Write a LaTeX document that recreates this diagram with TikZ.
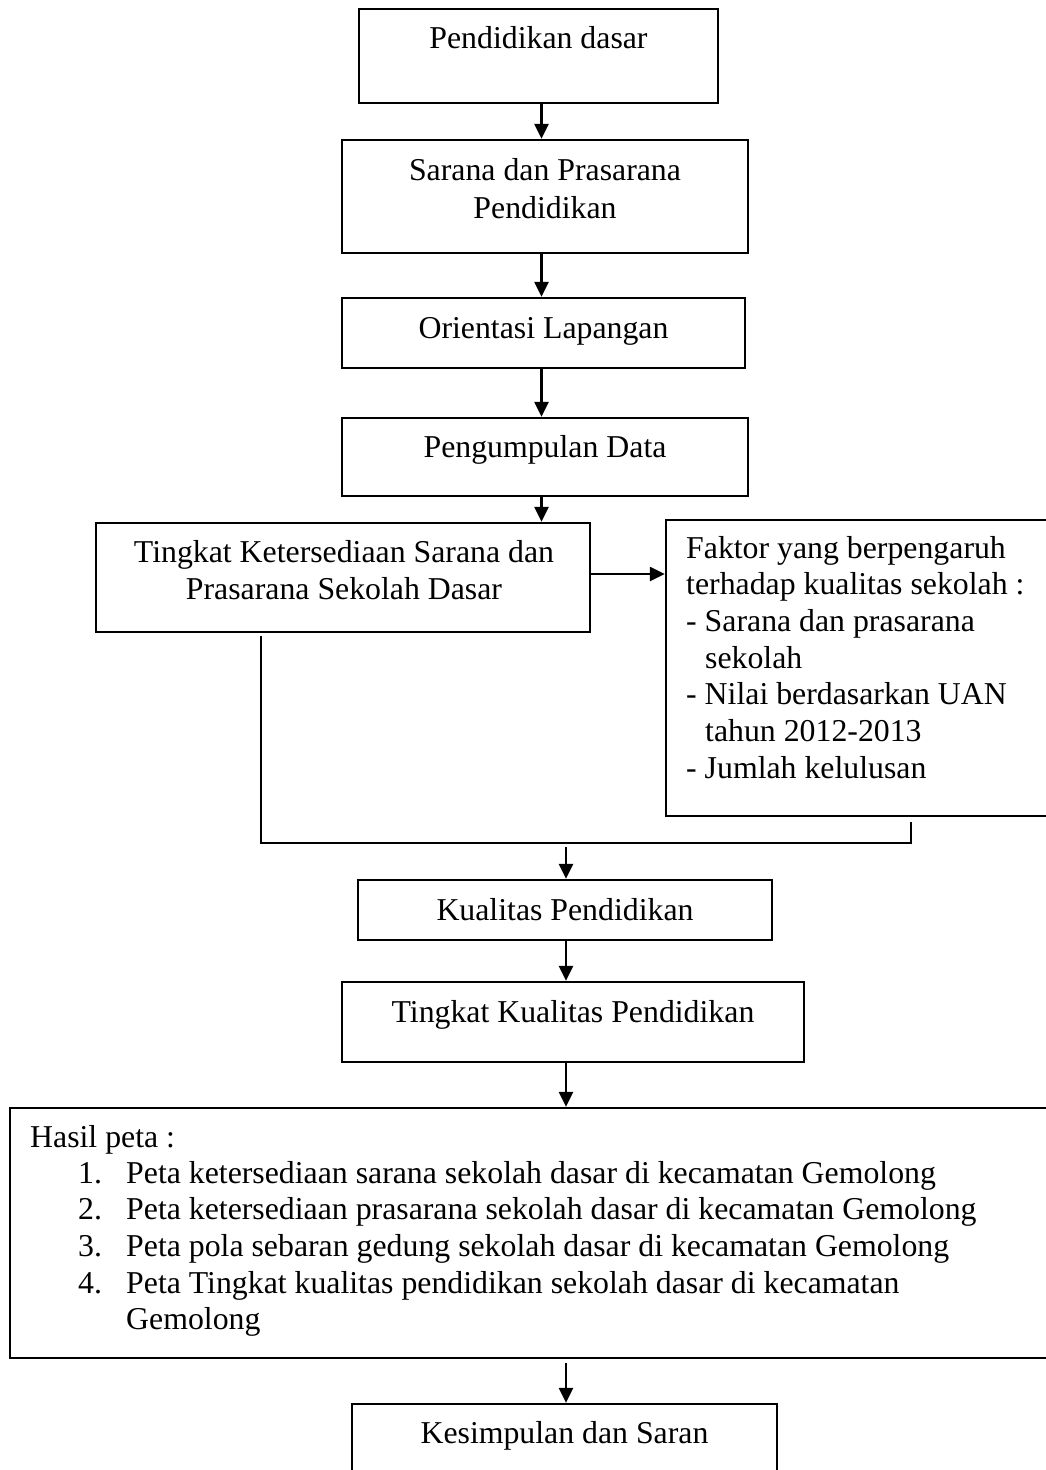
\documentclass[tikz,border=0pt]{standalone}
\usepackage{fontspec}
\setmainfont{Liberation Serif}
\usetikzlibrary{arrows.meta}
\begin{document}
\begin{tikzpicture}[x=1pt,y=-1pt,
  box/.style={draw, line width=2.3pt, inner sep=0pt},
  lbl/.style={anchor=base, inner sep=0pt, font=\fontsize{31.8}{37}\selectfont},
  lbll/.style={anchor=base west, inner sep=0pt, font=\fontsize{31.8}{37}\selectfont},
  arr/.style={line width=2.3pt, -{Triangle[width=14pt,length=15pt]}},
  link/.style={line width=1.8pt}]
\useasboundingbox (0,0) rectangle (1046,1470);
\clip (0,0) rectangle (1046,1470);
\fill[white] (0,0) rectangle (1046,1470);

% boxes
\node[box, minimum width=359, minimum height=94]  (b1)  at (538.5,56) {};
\node[box, minimum width=406, minimum height=113] (b2)  at (545,196.5) {};
\node[box, minimum width=403, minimum height=70]  (b3)  at (543.5,333) {};
\node[box, minimum width=406, minimum height=78]  (b4)  at (545,457) {};
\node[box, minimum width=494, minimum height=109] (b5)  at (343,577.5) {};
\node[box, minimum width=390, minimum height=296] (b6)  at (861,668) {};
\node[box, minimum width=414, minimum height=60]  (b7)  at (565,910) {};
\node[box, minimum width=462, minimum height=80]  (b8)  at (573,1022) {};
\node[box, minimum width=1046, minimum height=250] (b9) at (533,1233) {};
\node[box, minimum width=425, minimum height=76]  (b10) at (564.5,1442) {};

% labels
\node[lbl] (t1)  at (538.5,48) {Pendidikan dasar};
\node[lbl] (t2a) at (545,180) {Sarana dan Prasarana};
\node[lbl] (t2b) at (545,218) {Pendidikan};
\node[lbl] (t3)  at (543.5,338) {Orientasi Lapangan};
\node[lbl] (t4)  at (545,457) {Pengumpulan Data};
\node[lbl] (t5a) at (344,562) {Tingkat Ketersediaan Sarana dan};
\node[lbl] (t5b) at (344,599) {Prasarana Sekolah Dasar};

\node[lbll] (f1) at (686,558)   {Faktor yang berpengaruh};
\node[lbll] (f2) at (686,594.7) {terhadap kualitas sekolah :};
\node[lbll] (f3) at (686,631.4) {- Sarana dan prasarana};
\node[lbll] (f4) at (705,668)   {sekolah};
\node[lbll] (f5) at (686,704.8) {- Nilai berdasarkan UAN};
\node[lbll] (f6) at (705,741.5) {tahun 2012-2013};
\node[lbll] (f7) at (686,778.2) {- Jumlah kelulusan};

\node[lbl] (t7)  at (565,920) {Kualitas Pendidikan};
\node[lbl] (t8)  at (573,1022) {Tingkat Kualitas Pendidikan};

\node[lbll] (h0) at (30,1147) {Hasil peta :};
\node[lbll] (n1) at (78,1183)    {1.};
\node[lbll] (n2) at (78,1219.7)  {2.};
\node[lbll] (n3) at (78,1256.4)  {3.};
\node[lbll] (n4) at (78,1293)    {4.};
\node[lbll] (h1) at (126,1183)   {Peta ketersediaan sarana sekolah dasar di kecamatan Gemolong};
\node[lbll] (h2) at (126,1219.7) {Peta ketersediaan prasarana sekolah dasar di kecamatan Gemolong};
\node[lbll] (h3) at (126,1256.4) {Peta pola sebaran gedung sekolah dasar di kecamatan Gemolong};
\node[lbll] (h4) at (126,1293)   {Peta Tingkat kualitas pendidikan sekolah dasar di kecamatan};
\node[lbll] (h5) at (126,1329.7) {Gemolong};

\node[lbl] (t10) at (564.5,1443) {Kesimpulan dan Saran};

% helper coordinates
\coordinate (ax) at (541.5,0);
\coordinate (bx) at (566,0);
\coordinate (ay) at (0,574);
\coordinate (lx) at (261,0);
\coordinate (rx) at (911,0);
\coordinate (jy) at (0,843);

% connectors
\draw[arr] (b1.south -| ax) -- (b2.north -| ax);
\draw[arr] (b2.south -| ax) -- (b3.north -| ax);
\draw[arr] (b3.south -| ax) -- (b4.north -| ax);
\draw[arr] (b4.south -| ax) -- (b5.north -| ax);
\draw[arr] (b5.east |- ay) -- (b6.west |- ay);
\draw[link] ([yshift=-3pt]b5.south -| lx) -- (lx |- jy) -- (rx |- jy) -- ([yshift=-5pt]b6.south -| rx);
\draw[arr] ([yshift=-4pt]jy -| bx) -- (b7.north -| bx);
\draw[arr] (b7.south -| bx) -- (b8.north -| bx);
\draw[arr] (b8.south -| bx) -- (b9.north -| bx);
\draw[arr] ([yshift=-4pt]b9.south -| bx) -- (b10.north -| bx);
\end{tikzpicture}
\end{document}
